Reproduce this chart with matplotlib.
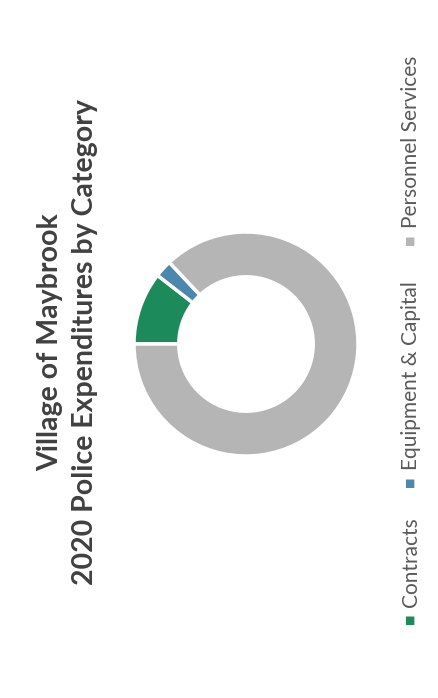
import matplotlib
matplotlib.use('Agg')
import matplotlib.pyplot as plt

categories = ['Contracts', 'Equipment & Capital', 'Personnel Services']
shares = [10.5, 2.5, 87.0]
colors = ['#1C8A5B', '#4B88AE', '#B5B5B5']
title_lines = ['Village of Maybrook', '2020 Police Expenditures by Category']

plt.rcParams['font.family'] = ['Lato', 'DejaVu Sans']

W, H = 439, 698
fig = plt.figure(figsize=(W / 100, H / 100), dpi=100)
fig.patch.set_facecolor('white')

# donut, drawn rotated (page was scanned sideways)
cx, cy, r = 246, 344, 112
ax = fig.add_axes([(cx - r) / W, 1 - (cy + r) / H, 2 * r / W, 2 * r / H])
ax.pie(shares, colors=colors, startangle=180, counterclock=False,
       wedgeprops=dict(width=0.4, edgecolor='white', linewidth=2.5))
ax.set_xlim(-1, 1)
ax.set_ylim(-1, 1)
ax.set_aspect('equal')
ax.axis('off')

# title, rotated 90 degrees (x = baseline position)
for line, bx in zip(title_lines, [58, 93]):
    fig.text(bx / W, 1 - 342 / H, line, rotation=90, rotation_mode='anchor',
             ha='center', va='baseline', fontsize=20.5, fontweight='bold',
             color='#404040')

# legend, rotated 90 degrees
marker_y = [619, 482, 240]
for name, col, my in zip(categories, colors, marker_y):
    fig.text(410 / W, 1 - my / H, '\u25a0', rotation=90, ha='center', va='center',
             fontsize=8, color=col, family=['DejaVu Sans'])
    fig.text(417 / W, 1 - (my - 12) / H, name, rotation=90, rotation_mode='anchor',
             ha='left', va='baseline', fontsize=15, color='#595959')

fig.savefig('out.png', dpi=100, facecolor='white')
